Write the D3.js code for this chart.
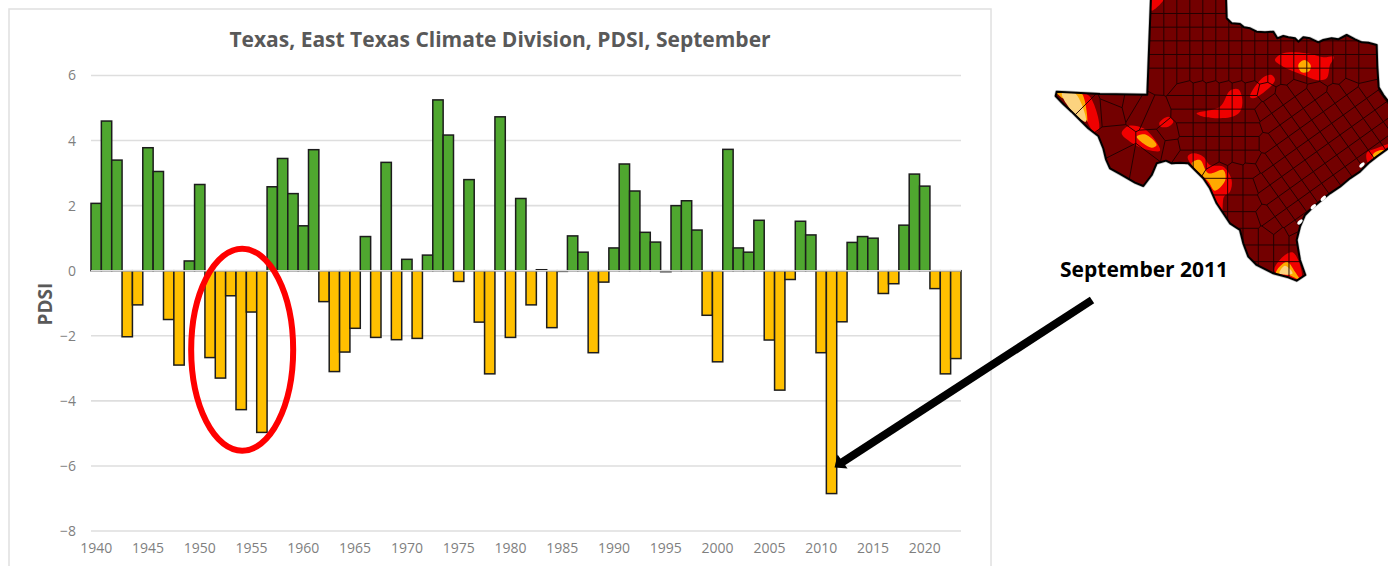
<!DOCTYPE html>
<html>
<head>
<meta charset="utf-8">
<title>Texas, East Texas Climate Division, PDSI, September</title>
<script src="https://cdn.jsdelivr.net/npm/d3@7"></script>
<style>
  html, body { margin: 0; padding: 0; background: #fff; overflow: hidden; }
  svg { display: block; }
</style>
</head>
<body>
<svg id="chart" width="1388" height="566"></svg>
<script>
const firstYear = 1940;
const pdsi = [
  2.07, 4.6, 3.4, -2.03, -1.05, 3.78, 3.05, -1.5, -2.9, 0.3,
  2.65, -2.67, -3.3, -0.77, -4.27, -1.27, -4.97, 2.58, 3.45, 2.37,
  1.38, 3.72, -0.95, -3.1, -2.5, -1.77, 1.05, -2.05, 3.33, -2.12,
  0.35, -2.08, 0.48, 5.25, 4.17, -0.33, 2.8, -1.58, -3.17, 4.73,
  -2.05, 2.22, -1.05, 0.03, -1.75, -0.02, 1.07, 0.57, -2.52, -0.35,
  0.7, 3.28, 2.45, 1.18, 0.88, -0.03, 2.0, 2.15, 1.25, -1.37,
  -2.8, 3.73, 0.7, 0.57, 1.55, -2.13, -3.67, -0.27, 1.52, 1.1,
  -2.52, -6.85, -1.57, 0.87, 1.05, 1.0, -0.7, -0.4, 1.4, 2.97,
  2.6, -0.55, -3.17, -2.7
];
const years = pdsi.map((d, i) => firstYear + i);
const yTicks = [6, 4, 2, 0, -2, -4, -6, -8];
const xTicks = d3.range(1940, 2021, 5);

// inset map, traced by hand from the drought map (units are 1/3 px from its corner)
const texasOutline = [
  [333,-8],[327,150],[322,284],[180,282],[50,275],[47,288],[70,312],[95,335],[115,355],[145,385],[175,408],
  [190,445],[198,478],[210,505],[240,522],[285,548],[310,558],[335,525],[350,490],[378,482],[395,490],
  [420,488],[445,490],[465,510],[490,535],[510,565],[530,610],[550,640],[570,670],[600,690],[610,730],
  [625,770],[650,795],[700,820],[745,832],[770,842],[796,825],[780,780],[770,720],[780,680],[795,645],
  [815,625],[845,600],[870,580],[900,560],[930,535],[960,515],[985,490],[1010,470],[1055,438],
  [1055,318],[1030,285],[1016,262],[1012,200],[1010,135],[985,128],[965,127],[945,118],[920,105],[895,118],
  [875,115],[850,120],[835,127],[810,115],[790,112],[775,125],[765,115],[745,112],[730,108],[712,115],
  [700,95],[675,97],[650,95],[630,85],[612,82],[600,72],[575,70],[560,55],[558,-8]
];
const droughtPatches = [
  { fill: "#f00000", pts: [[705,180],[730,160],[800,160],[850,172],[882,170],[870,195],[860,235],[830,240],[790,225],[730,200]] },
  { fill: "#f00000", pts: [[630,290],[670,232],[695,225],[705,240],[680,270],[640,295]] },
  { fill: "#f00000", pts: [[470,340],[540,320],[570,272],[595,268],[607,300],[600,335],[570,352],[490,350]] },
  { fill: "#f00000", pts: [[358,368],[385,350],[400,365],[385,380],[362,380]] },
  { fill: "#f00000", pts: [[245,400],[265,378],[310,385],[345,420],[360,452],[325,450],[270,425]] },
  { fill: "#f00000", pts: [[125,278],[150,290],[178,385],[165,398],[140,360]] },
  { fill: "#f00000", pts: [[443,470],[460,460],[490,470],[510,495],[550,500],[575,540],[570,575],[552,590],[545,635],[510,570],[470,515]] },
  { fill: "#f00000", pts: [[980,460],[1010,445],[1060,432],[1060,480],[990,497]] },
  { fill: "#f00000", pts: [[703,812],[735,765],[760,758],[785,830],[760,840]] },
  { fill: "#f00000", pts: [[335,-8],[375,-8],[335,32]] },
  { fill: "#ffaa00", pts: [[775,195],[793,180],[812,195],[808,213],[785,217]] },
  { fill: "#ffaa00", pts: [[290,410],[315,403],[350,435],[335,443]] },
  { fill: "#ffaa00", pts: [[100,278],[125,280],[142,365],[132,345]] },
  { fill: "#ffaa00", pts: [[50,278],[68,280],[70,295]] },
  { fill: "#ffaa00", pts: [[455,490],[480,480],[505,520],[550,510],[556,540],[525,572],[505,545]] },
  { fill: "#ffaa00", pts: [[1000,462],[1030,450],[1055,470],[1005,492]] },
  { fill: "#ffaa00", pts: [[708,818],[740,785],[765,815],[778,838],[745,824]] },
  { fill: "#fcd37f", pts: [[66,280],[105,280],[138,365],[100,338]] },
  { fill: "#fcd37f", pts: [[718,820],[735,797],[758,820],[742,824]] }
];
const coastIslands = [[966,495],[850,595],[820,620],[780,666]];
const westSites = [[215,325],[150,330],[120,300],[300,325],[345,345],[225,430],[250,480],[305,490],[350,430],[395,440],[390,400],[225,300],[275,310]];

const width = 1388, height = 566;
const margin = { top: 75.5, right: 427, bottom: 35, left: 91 };

const svg = d3.select("#chart");

// chart frame, runs off the bottom of the picture
svg.append("rect")
  .attr("x", 9).attr("y", 9)
  .attr("width", 982).attr("height", 600)
  .attr("fill", "#fff")
  .attr("stroke", "#e0e0e0")
  .attr("stroke-width", 1.5);

const x = d3.scaleBand()
  .domain(years)
  .range([margin.left, width - margin.right]);

const y = d3.scaleLinear()
  .domain([-8, 6])
  .range([height - margin.bottom, margin.top]);

const tickFont = "'Open Sans', sans-serif";

svg.append("g")
  .selectAll("line")
  .data(yTicks.filter(d => d !== 0))
  .join("line")
  .attr("x1", x.range()[0])
  .attr("x2", x.range()[1])
  .attr("y1", d => y(d))
  .attr("y2", d => y(d))
  .attr("stroke", "#dedede")
  .attr("stroke-width", 1.6);

svg.append("g")
  .selectAll("rect")
  .data(years)
  .join("rect")
  .attr("x", (d) => x(d))
  .attr("width", x.bandwidth())
  .attr("y", (d, i) => y(Math.max(0, pdsi[i])))
  .attr("height", (d, i) => Math.abs(y(pdsi[i]) - y(0)))
  .attr("fill", (d, i) => pdsi[i] >= 0 ? "#4fa72f" : "#ffc000")
  .attr("stroke", "#1c1c1c")
  .attr("stroke-width", 1.5);

svg.append("line")
  .attr("x1", x.range()[0])
  .attr("x2", x.range()[1])
  .attr("y1", y(0))
  .attr("y2", y(0))
  .attr("stroke", "#dedede")
  .attr("stroke-width", 1.6);

const yAxis = svg.append("g")
  .attr("transform", `translate(${margin.left},0)`)
  .call(d3.axisLeft(y).tickValues(yTicks).tickSize(0).tickPadding(15).tickFormat(d3.format("d")));
yAxis.select(".domain").remove();

const xAxis = svg.append("g")
  .attr("transform", `translate(0,${y(-8)})`)
  .call(d3.axisBottom(x).tickValues(xTicks).tickSize(0).tickPadding(12));
xAxis.select(".domain").remove();

svg.selectAll(".tick text")
  .attr("font-family", tickFont)
  .attr("font-size", 14)
  .attr("fill", "#7f7f7f");

svg.append("text")
  .attr("x", 500)
  .attr("y", 47)
  .attr("text-anchor", "middle")
  .attr("font-family", tickFont)
  .attr("font-size", 21)
  .attr("font-weight", 700)
  .attr("fill", "#595959")
  .text("Texas, East Texas Climate Division, PDSI, September");

svg.append("text")
  .attr("transform", "translate(52,304) rotate(-90)")
  .attr("text-anchor", "middle")
  .attr("font-family", tickFont)
  .attr("font-size", 19)
  .attr("font-weight", 700)
  .attr("fill", "#595959")
  .text("PDSI");

// inset map
const mapLine = d3.line();
const mapCurve = d3.line().curve(d3.curveCatmullRomClosed.alpha(0.5));
const map = svg.append("g").attr("transform", "translate(1040,0) scale(0.3333)");

svg.append("defs").append("clipPath")
  .attr("id", "texas-clip")
  .append("path")
  .attr("d", mapLine(texasOutline) + "Z");

map.append("path")
  .attr("d", mapLine(texasOutline) + "Z")
  .attr("fill", "none")
  .attr("stroke", "#c4c4c4")
  .attr("stroke-width", 10)
  .attr("stroke-linejoin", "round");

map.append("path")
  .attr("d", mapLine(texasOutline) + "Z")
  .attr("fill", "#730000");

const inner = map.append("g").attr("clip-path", "url(#texas-clip)");

inner.selectAll("path.patch")
  .data(droughtPatches)
  .join("path")
  .attr("class", "patch")
  .attr("d", d => mapCurve(d.pts))
  .attr("fill", d => d.fill);

// county lines: square grid in the north and centre, tilted grid to the east
const sites = westSites.slice();
for (let gy = 20; gy < 480; gy += 41) {
  for (let gx = 352; gx < 1000; gx += 39) {
    const inCentre = gy < 240 ? gx < 1000 : gx < 640;
    if (inCentre && !(gy > 240 && gx < 420)) sites.push([gx + (gy > 240 ? 10 : 0), gy]);
  }
}
const tilt = -0.62, step = 43;
for (let u = -10; u <= 10; u++) {
  for (let v = -10; v <= 10; v++) {
    const sx = 800 + step * (u * Math.cos(tilt) - v * Math.sin(tilt));
    const sy = 450 + step * (u * Math.sin(tilt) + v * Math.cos(tilt));
    if (sy > 255 && sx > 660 && sy < 700) sites.push([sx, sy]);
  }
}
for (let gy = 510; gy < 860; gy += 50) {
  for (let gx = 540; gx < 800; gx += 46) {
    if (gx < 660 || gy > 690) sites.push([gx, gy]);
  }
}
const voronoi = d3.Delaunay.from(sites).voronoi([0, -10, 1060, 880]);
inner.append("path")
  .attr("d", voronoi.render())
  .attr("fill", "none")
  .attr("stroke", "#1f0000")
  .attr("stroke-width", 2.8);

map.append("path")
  .attr("d", mapLine(texasOutline) + "Z")
  .attr("fill", "none")
  .attr("stroke", "#000")
  .attr("stroke-width", 6)
  .attr("stroke-linejoin", "round");

map.selectAll("ellipse")
  .data(coastIslands)
  .join("ellipse")
  .attr("cx", d => d[0])
  .attr("cy", d => d[1])
  .attr("rx", 10)
  .attr("ry", 5)
  .attr("transform", d => `rotate(-45,${d[0]},${d[1]})`)
  .attr("fill", "#fff");

svg.append("text")
  .attr("x", 1060)
  .attr("y", 277)
  .attr("font-family", tickFont)
  .attr("font-size", 21)
  .attr("font-weight", 700)
  .attr("fill", "#000")
  .text("September 2011");

// annotations: drought of the 1950s and the 2011 arrow
svg.append("ellipse")
  .attr("cx", x(1954) + x.bandwidth() / 2 + 1)
  .attr("cy", y(-2.43))
  .attr("rx", 51)
  .attr("ry", 101)
  .attr("fill", "none")
  .attr("stroke", "#ff0000")
  .attr("stroke-width", 6);

const arrowTip = [x(2011) + x.bandwidth() / 2 + 3, y(-6) + 1.5];
svg.append("line")
  .attr("x1", 1092)
  .attr("y1", 300)
  .attr("x2", arrowTip[0] + 6)
  .attr("y2", arrowTip[1] - 4)
  .attr("stroke", "#000")
  .attr("stroke-width", 8);
svg.append("path")
  .attr("d", `M${arrowTip[0]},${arrowTip[1]}l3,-13l10,14Z`)
  .attr("fill", "#000");
</script>
</body>
</html>
